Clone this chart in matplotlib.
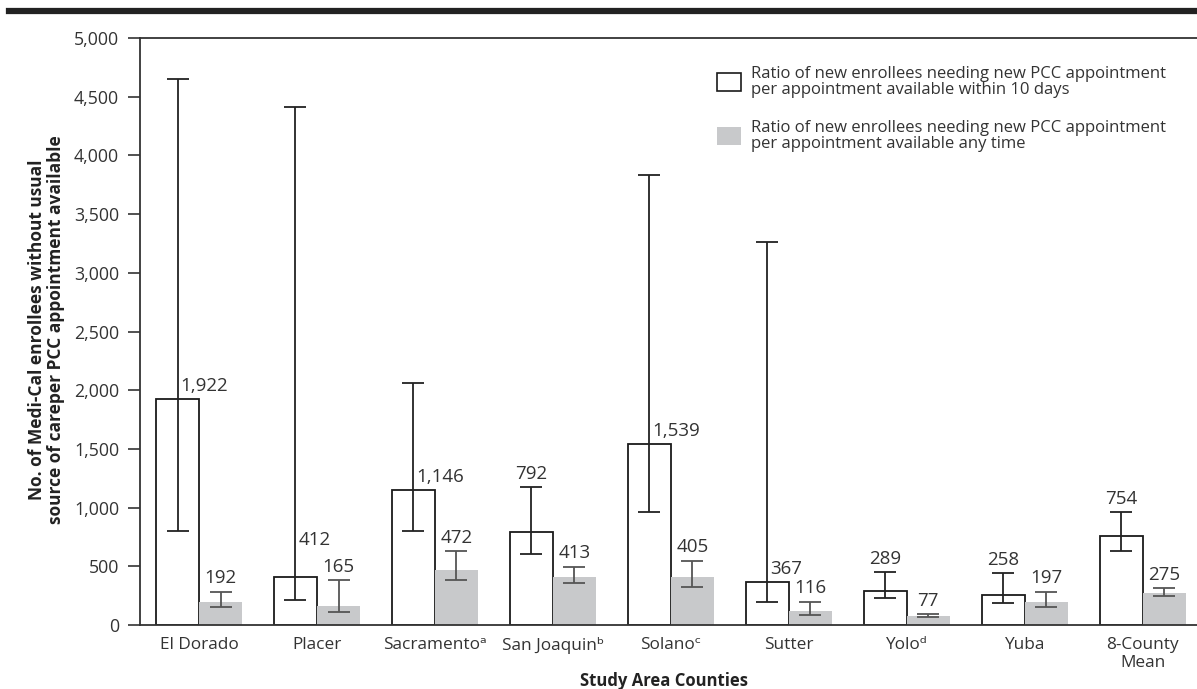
import numpy as np
import matplotlib
matplotlib.use("Agg")
import matplotlib.pyplot as plt
from matplotlib.patches import Patch
from matplotlib.lines import Line2D

plt.rcParams['font.family'] = ['Open Sans', 'DejaVu Sans']

counties = ["El Dorado", "Placer", "Sacramento\u1d43", "San Joaquin\u1d47",
            "Solano\u1d9c", "Sutter", "Yolo\u1d48", "Yuba", "8-County\nMean"]

# within 10 days
ratio_10d = [1922, 412, 1146, 792, 1539, 367, 289, 258, 754]
ratio_10d_lo = [800, 213, 801, 602, 965, 199, 227, 190, 630]
ratio_10d_hi = [4651, 4412, 2059, 1178, 3836, 3262, 454, 440, 960]

# any time
ratio_any = [192, 165, 472, 413, 405, 116, 77, 197, 275]
ratio_any_lo = [151, 108, 383, 360, 326, 85, 68, 156, 250]
ratio_any_hi = [284, 383, 630, 497, 548, 199, 92, 284, 313]

label_10d = "Ratio of new enrollees needing new PCC appointment\nper appointment available within 10 days"
label_any = "Ratio of new enrollees needing new PCC appointment\nper appointment available any time"

text_col = "#333333"
grey = "#c8c9cb"

fig = plt.figure(figsize=(11.97, 6.89), dpi=100)
ax = fig.add_axes([0.117, 0.0929, 0.883, 0.8519])

x = np.arange(len(counties))
w = 0.365

ax.bar(x - w / 2, ratio_10d, w, facecolor="white", edgecolor="#1a1a1a", linewidth=1.3, zorder=2)
ax.bar(x + w / 2, ratio_any, w, facecolor=grey, edgecolor="none", zorder=2)

v10 = np.array(ratio_10d)
vany = np.array(ratio_any)
err10 = [v10 - np.array(ratio_10d_lo), np.array(ratio_10d_hi) - v10]
errany = [vany - np.array(ratio_any_lo), np.array(ratio_any_hi) - vany]
ax.errorbar(x - w / 2, v10, yerr=err10, fmt="none", ecolor="#222222",
            elinewidth=1.3, capsize=8, capthick=1.3, zorder=3)
ax.errorbar(x + w / 2, vany, yerr=errany, fmt="none", ecolor="#555555",
            elinewidth=1.3, capsize=8, capthick=1.3, zorder=3)

# value labels: beside the whisker when it is tall, else above the cap
for i in range(len(counties)):
    v, hi = ratio_10d[i], ratio_10d_hi[i]
    if hi - v > 500:
        lift = 20 if i == 1 else 3
        ax.annotate(f"{v:,}", (x[i] - w / 2, v), xytext=(2, lift), textcoords="offset points",
                    ha="left", va="bottom", fontsize=13.5, color=text_col)
    else:
        ax.annotate(f"{v:,}", (x[i] - w / 2, hi), xytext=(0, 3), textcoords="offset points",
                    ha="center", va="bottom", fontsize=13.5, color=text_col)
    ax.annotate(f"{ratio_any[i]:,}", (x[i] + w / 2, ratio_any_hi[i]), xytext=(0, 3),
                textcoords="offset points", ha="center", va="bottom", fontsize=13.5, color=text_col)

ax.set_xlim(-0.5, 8.46)
ax.set_ylim(0, 5000)
ax.set_yticks(np.arange(0, 5001, 500))
ax.set_yticklabels([f"{t:,}" for t in range(0, 5001, 500)])
ax.set_xticks(x)
ax.set_xticklabels(counties, linespacing=1.15)
ax.tick_params(axis="y", length=9, width=1.2, color="#333333", labelsize=12.8, labelcolor=text_col, pad=6)
ax.tick_params(axis="x", length=0, labelsize=12.4, labelcolor=text_col, pad=9)

for s in ["left", "top", "bottom"]:
    ax.spines[s].set_color("#333333")
    ax.spines[s].set_linewidth(1.3)
ax.spines["right"].set_visible(False)

ax.set_ylabel("No. of Medi-Cal enrollees without usual\nsource of careper PCC appointment available",
              fontsize=12.5, fontweight="bold", color="#222222", linespacing=1.05)
ax.yaxis.set_label_coords(-0.071, 0.503)
fig.text(0.555, 1 - 681 / 689, "Study Area Counties", fontsize=12, fontweight="bold",
         color="#222222", ha="center", va="center")

handles = [Patch(facecolor="white", edgecolor="#1a1a1a", linewidth=1.2),
           Patch(facecolor=grey, edgecolor="none")]
leg = ax.legend(handles, [label_10d, label_any], loc="upper left", bbox_to_anchor=(0.532, 0.978),
                frameon=False, fontsize=12, labelspacing=1.3, handlelength=1.4, handleheight=1.3,
                handletextpad=0.6, labelcolor=text_col)
for t in leg.get_texts():
    t.set_linespacing(1.0)

# thick rule at top
fig.add_artist(Line2D([0.0075, 1.0], [0.984, 0.984], color="#222222", linewidth=4.5,
                      transform=fig.transFigure))

fig.savefig("out.png", dpi=100)
